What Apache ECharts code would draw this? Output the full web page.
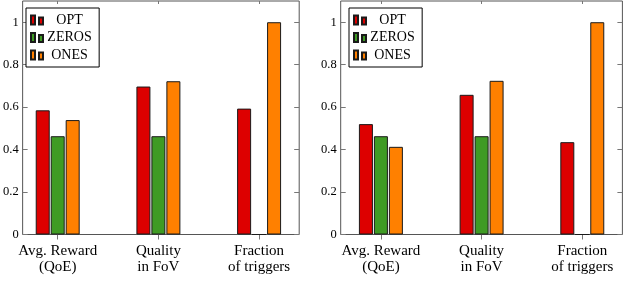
<!DOCTYPE html>
<html>
<head>
<meta charset="utf-8">
<script src="https://cdn.jsdelivr.net/npm/echarts@6/dist/echarts.min.js"></script>
<style>
html,body{margin:0;padding:0;background:#fff;}
#c{width:636px;height:282px;}
</style>
</head>
<body>
<div id="c"></div>
<script>
// ---- data ----
const categories = ['Avg. Reward\n(QoE)', 'Quality\nin FoV', 'Fraction\nof triggers'];
const seriesNames = ['OPT', 'ZEROS', 'ONES'];
const leftOPT = [0.585, 0.697, 0.593];
const leftZEROS = [0.463, 0.463, 0];
const leftONES = [0.539, 0.722, 1.0];
const rightOPT = [0.520, 0.658, 0.435];
const rightZEROS = [0.463, 0.463, 0];
const rightONES = [0.413, 0.724, 1.0];
const yTickValues = [0, 0.2, 0.4, 0.6, 0.8, 1];
const yTickLabels = ['0', '0.2', '0.4', '0.6', '0.8', '1'];

// ---- style / layout ----
const colors = ['#dd0000', '#3f9b24', '#ff8000'];
const FONT = 'Liberation Serif';
const frameColor = '#555';
const tickColor = '#777';
const legendIcon = 'path://M0,0 h4 v9 h-4 z M8,2 h4 v7 h-4 z';
const panelLeft = [17.5, 340.7];
const frameWidth = 281.7;
const catSpacing = 100.7;
const edgeToCenter = 40.2;
const TOP = 1, HEIGHT = 233.5;

const chart = echarts.init(document.getElementById('c'), null, {renderer: 'canvas'});

const grids = [], xAxes = [], yAxes = [];
panelLeft.forEach(function (L, g) {
  // frame grid
  grids.push({left: L, width: frameWidth, top: TOP, height: HEIGHT, show: true,
    borderColor: frameColor, borderWidth: 1, backgroundColor: 'transparent'});
  // bar grid (invisible; category bands sized so centres match the reference)
  const barLeft = L + edgeToCenter - catSpacing / 2;
  grids.push({left: barLeft, width: catSpacing * 3, top: TOP, height: HEIGHT, show: false});

  const fg = 2 * g, bg = 2 * g + 1;
  // frame grid axes
  xAxes.push({type: 'value', gridIndex: fg, min: 0, max: 1, show: false});
  yAxes.push({
    type: 'value', gridIndex: fg, position: 'left', min: 0, max: 1.1,
    axisLine: {show: false}, splitLine: {show: false},
    axisTick: {show: true, inside: true, length: 5, customValues: yTickValues, lineStyle: {color: tickColor}},
    axisLabel: {
      show: true, customValues: yTickValues, margin: 4,
      fontFamily: FONT, fontSize: 12.5, color: '#000',
      formatter: function (v) {
        const i = yTickValues.findIndex(function (t) { return Math.abs(t - v) < 1e-9; });
        return i >= 0 ? yTickLabels[i] : '';
      }
    }
  });
  yAxes.push({
    type: 'value', gridIndex: fg, position: 'right', min: 0, max: 1.1,
    axisLine: {show: false}, splitLine: {show: false},
    axisTick: {show: true, inside: true, length: 5, customValues: yTickValues, lineStyle: {color: tickColor}},
    axisLabel: {show: false}
  });
  // bar grid axes
  xAxes.push({
    type: 'category', gridIndex: bg, position: 'bottom', data: categories, boundaryGap: true,
    axisLine: {show: false}, splitLine: {show: false},
    axisTick: {show: true, alignWithLabel: true, inside: false, length: 5, lineStyle: {color: tickColor}},
    axisLabel: {show: true, interval: 0, margin: 9, fontFamily: FONT, fontSize: 15, lineHeight: 16, color: '#000'}
  });
  xAxes.push({
    type: 'category', gridIndex: bg, position: 'top', data: categories, boundaryGap: true,
    axisLine: {show: false}, splitLine: {show: false},
    axisTick: {show: true, alignWithLabel: true, inside: true, length: 3, lineStyle: {color: tickColor}},
    axisLabel: {show: false}
  });
  yAxes.push({type: 'value', gridIndex: bg, min: 0, max: 1.1, show: false, splitLine: {show: false}});
});

const panelData = [
  [leftOPT, leftZEROS, leftONES],
  [rightOPT, rightZEROS, rightONES]
];

const series = [];
panelData.forEach(function (sets, g) {
  sets.forEach(function (vals, s) {
    series.push({
      type: 'bar',
      name: seriesNames[s],
      xAxisIndex: 4 * g + 1,   // bottom category axis of the bar grid
      yAxisIndex: 3 * g + 2,   // hidden value axis of the bar grid
      barWidth: 14,
      barGap: '7%',
      data: vals,
      itemStyle: {color: colors[s], borderColor: '#1a1a1a', borderWidth: 1},
      emphasis: {disabled: true},
      silent: true
    });
  });
});

function legend(left) {
  return {
    orient: 'vertical', left: left, top: 8,
    data: seriesNames.map(function (n) { return {name: n, icon: legendIcon}; }),
    itemWidth: 12, itemHeight: 9, itemGap: 3.5,
    padding: [5, 7.5, 5, 4],
    borderColor: '#000', borderWidth: 1, backgroundColor: '#fff',
    selectedMode: false,
    formatter: function (n) { return '{t|' + n + '}'; },
    textStyle: {
      fontFamily: FONT, fontSize: 14, color: '#000',
      rich: {t: {width: 43, align: 'center', fontFamily: FONT, fontSize: 14, lineHeight: 14}}
    }
  };
}

chart.setOption({
  animation: false,
  grid: grids,
  xAxis: xAxes,
  yAxis: yAxes,
  legend: [legend(26), legend(349)],
  series: series
});
</script>
</body>
</html>
